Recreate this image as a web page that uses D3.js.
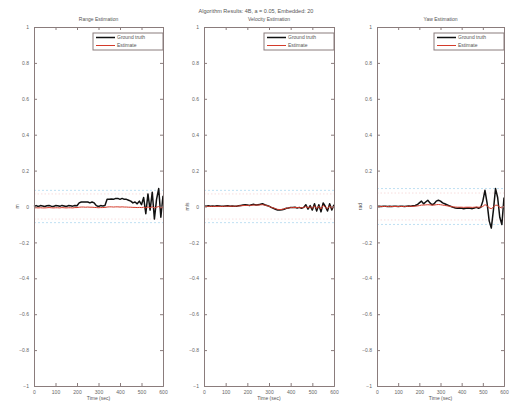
<!DOCTYPE html>
<html>
<head>
<meta charset="utf-8">
<script src="https://cdn.jsdelivr.net/npm/d3@7"></script>
<style>
  html, body { margin: 0; padding: 0; background: #fff; }
  svg { display: block; font-family: "Liberation Sans", Arial, sans-serif; }
  .axis path, .axis line { stroke: #8a7c7c; }
  .axis text { fill: #666; font-size: 5px; }
</style>
</head>
<body>
<div id="chart"></div>
<script>
// sample times (sec)
const time = [0,10,20,30,40,50,60,70,80,90,100,110,120,130,140,150,160,170,180,190,
  200,210,220,230,240,250,260,270,280,290,300,310,320,330,340,350,360,370,380,390,
  400,410,420,430,440,450,460,470,480,490,500,510,520,530,540,550,560,570,580,590,600];

const rangeTruth = [0,0.005,0,0.005,0.003,0,0.004,0.006,0.002,0,0.005,0.004,0.001,0.006,0.003,0,0.005,0.004,0.002,0.006,0.004,
  0.02,0.025,0.025,0.025,0.025,0.02,0.025,0.02,
  0.005,0,0.005,0.003,0.006,
  0.04,0.04,0.042,0.04,0.045,0.045,0.04,0.045,0.04,0.04,0.035,0.03,
  0.02,0.025,0.015,0.03,0.01,
  0.05,-0.04,0.07,-0.02,0.08,-0.07,0.04,0.1,-0.06,0.06];
const rangeEst = [-0.008,-0.007,-0.008,-0.007,-0.008,-0.008,-0.007,-0.006,-0.007,-0.008,-0.007,-0.007,-0.008,-0.006,-0.007,-0.008,-0.007,-0.007,-0.008,-0.006,-0.006,
  -0.004,-0.003,-0.003,-0.004,-0.003,-0.004,-0.004,-0.005,
  -0.006,-0.007,-0.006,-0.006,-0.005,
  -0.003,-0.002,-0.002,-0.003,-0.002,-0.002,-0.003,-0.002,-0.003,-0.003,-0.004,-0.004,
  -0.005,-0.005,-0.006,-0.005,-0.006,
  -0.004,-0.008,-0.002,-0.007,-0.001,-0.009,-0.004,0.0,-0.008,-0.004];

const velTruth = [0.003,0.002,0.004,0.001,0.003,0.002,0.004,0.003,0.001,0.002,0.003,0.004,0.002,0.003,0.001,0.002,0.004,0.006,0.008,0.01,0.008,
  0.006,0.01,0.012,0.008,0.01,0.012,0.015,0.01,0.006,0.002,-0.005,-0.01,
  -0.015,-0.02,-0.02,-0.018,-0.015,-0.01,-0.008,-0.005,-0.006,-0.004,-0.008,-0.005,-0.01,
  -0.005,0.01,-0.015,0.005,-0.02,0.015,-0.025,0.01,-0.03,0.02,0,-0.025,0.015,-0.02,0.01];
const velEst = [0,0,0.001,0,0.001,0,0.001,0.001,0,0.001,0.001,0.002,0.001,0.002,0.001,0.002,0.003,0.004,0.005,0.006,0.006,
  0.006,0.007,0.008,0.008,0.008,0.009,0.01,0.008,0.005,0.001,-0.004,-0.008,
  -0.012,-0.016,-0.017,-0.016,-0.013,-0.01,-0.008,-0.006,-0.006,-0.005,-0.006,-0.006,-0.007,
  -0.006,0.0,-0.008,-0.002,-0.01,0.004,-0.012,0.002,-0.014,0.006,-0.004,-0.012,0.004,-0.01,0.002];

const yawTruth = [0,0.002,0,0.001,0.002,0,0.001,0,0.002,0.001,0,0.002,0.001,0,0.002,0.003,0.001,0.004,0.006,0.01,
  0.02,0.03,0.015,0.025,0.035,0.02,0.01,0.015,0.03,0.035,0.03,0.02,0.015,0.01,
  0.005,0,-0.005,-0.008,-0.01,-0.008,-0.01,-0.012,-0.01,-0.008,-0.01,-0.012,-0.008,-0.005,-0.01,-0.005,
  0.03,0.09,0.02,-0.08,-0.12,-0.02,0.1,0.05,-0.06,-0.1,0.05];
const yawEst = [0,0,0,0,0,0,0,0,0,0,0,0,0,0,0,0.001,0.001,0.001,0.002,0.003,
  0.005,0.008,0.008,0.009,0.01,0.009,0.008,0.008,0.01,0.011,0.01,0.008,0.006,0.004,
  0.002,0,-0.002,-0.003,-0.004,-0.004,-0.004,-0.005,-0.004,-0.004,-0.004,-0.005,-0.004,-0.003,-0.004,-0.003,
  0.0,0.01,0.005,-0.008,-0.012,-0.004,0.008,0.006,-0.004,-0.008,0.002];

// 1-sigma style bounds drawn as faint dotted lines
const outerBound = [0.09, 0.09, 0.1];
const innerBound = [0.07, 0.07, 0.075];

const panelTitles = ["Range Estimation", "Velocity Estimation", "Yaw Estimation"];
const yLabels = ["m", "m/s", "rad"];
const legendLabels = ["Ground truth", "Estimate"];
const xTicks = [0, 100, 200, 300, 400, 500, 600];
const yTicks = [1, 0.8, 0.6, 0.4, 0.2, 0, -0.2, -0.4, -0.6, -0.8, -1];
const mainTitle = "Algorithm Results: 4B, a = 0.05, Embedded: 20";

const truths = [rangeTruth, velTruth, yawTruth];
const estimates = [rangeEst, velEst, yawEst];

const width = 511, height = 403;
const plotTop = 27, plotBottom = 386;
const panelX = [[34, 163], [204, 334], [377, 504]];

const svg = d3.select("#chart").append("svg")
  .attr("width", width)
  .attr("height", height);

svg.append("text")
  .attr("x", 256).attr("y", 13)
  .attr("text-anchor", "middle")
  .attr("font-size", 5.5)
  .attr("fill", "#555")
  .text(mainTitle);

panelTitles.forEach((title, i) => {
  const [x0, x1] = panelX[i];
  const x = d3.scaleLinear().domain([0, 600]).range([x0, x1]);
  const y = d3.scaleLinear().domain([-1, 1]).range([plotBottom, plotTop]);
  const g = svg.append("g");

  // bounds
  [outerBound[i], -outerBound[i]].forEach(b => {
    g.append("line")
      .attr("x1", x(0)).attr("x2", x(600))
      .attr("y1", y(b)).attr("y2", y(b))
      .attr("stroke", "#bfe0f3").attr("stroke-width", 1)
      .attr("stroke-dasharray", "2,2");
  });
  [innerBound[i], -innerBound[i]].forEach(b => {
    g.append("line")
      .attr("x1", x(0)).attr("x2", x(600))
      .attr("y1", y(b)).attr("y2", y(b))
      .attr("stroke", "#f6d6d6").attr("stroke-width", 0.8)
      .attr("stroke-dasharray", "1.5,2");
  });

  const line = d3.line().x((d, k) => x(time[k])).y(d => y(d));

  g.append("path")
    .datum(truths[i])
    .attr("fill", "none")
    .attr("stroke", "#111")
    .attr("stroke-width", 1.5)
    .attr("stroke-linejoin", "round")
    .attr("d", line);

  g.append("path")
    .datum(estimates[i])
    .attr("fill", "none")
    .attr("stroke", "#d43a2a")
    .attr("stroke-width", 1)
    .attr("d", line);

  // axes, box style with inward ticks
  g.append("g").attr("class", "axis")
    .attr("transform", `translate(0,${plotBottom})`)
    .call(d3.axisBottom(x).tickValues(xTicks).tickSize(-3).tickPadding(4));
  g.append("g").attr("class", "axis")
    .attr("transform", `translate(0,${plotTop})`)
    .call(d3.axisTop(x).tickValues(xTicks).tickSize(-3).tickFormat(""));
  g.append("g").attr("class", "axis")
    .attr("transform", `translate(${x0},0)`)
    .call(d3.axisLeft(y).tickValues(yTicks).tickSize(-3).tickPadding(5).tickFormat(d3.format("~g")));
  g.append("g").attr("class", "axis")
    .attr("transform", `translate(${x1},0)`)
    .call(d3.axisRight(y).tickValues(yTicks).tickSize(-3).tickFormat(""));
  g.selectAll(".axis .domain").attr("stroke", "#8a7c7c");

  g.append("text")
    .attr("x", (x0 + x1) / 2).attr("y", 21)
    .attr("text-anchor", "middle")
    .attr("font-size", 5).attr("fill", "#555")
    .text(title);

  g.append("text")
    .attr("x", (x0 + x1) / 2).attr("y", 400)
    .attr("text-anchor", "middle")
    .attr("font-size", 5).attr("fill", "#555")
    .text("Time (sec)");

  g.append("text")
    .attr("transform", `translate(${x0 - 15},${y(0)}) rotate(-90)`)
    .attr("text-anchor", "middle")
    .attr("font-size", 5).attr("fill", "#555")
    .text(yLabels[i]);

  // legend
  const lw = 70;
  const lg = g.append("g").attr("transform", `translate(${x1 - lw},${plotTop + 6})`);
  lg.append("rect")
    .attr("width", lw).attr("height", 17)
    .attr("fill", "#fff").attr("stroke", "#8a7c7c").attr("stroke-width", 1);
  legendLabels.forEach((lab, k) => {
    const ly = 4.5 + k * 8;
    lg.append("line")
      .attr("x1", 3).attr("x2", 22)
      .attr("y1", ly).attr("y2", ly)
      .attr("stroke", k === 0 ? "#111" : "#d43a2a")
      .attr("stroke-width", k === 0 ? 1.5 : 1);
    lg.append("text")
      .attr("x", 24).attr("y", ly + 1.8)
      .attr("font-size", 5).attr("fill", "#555")
      .text(lab);
  });
});
</script>
</body>
</html>
